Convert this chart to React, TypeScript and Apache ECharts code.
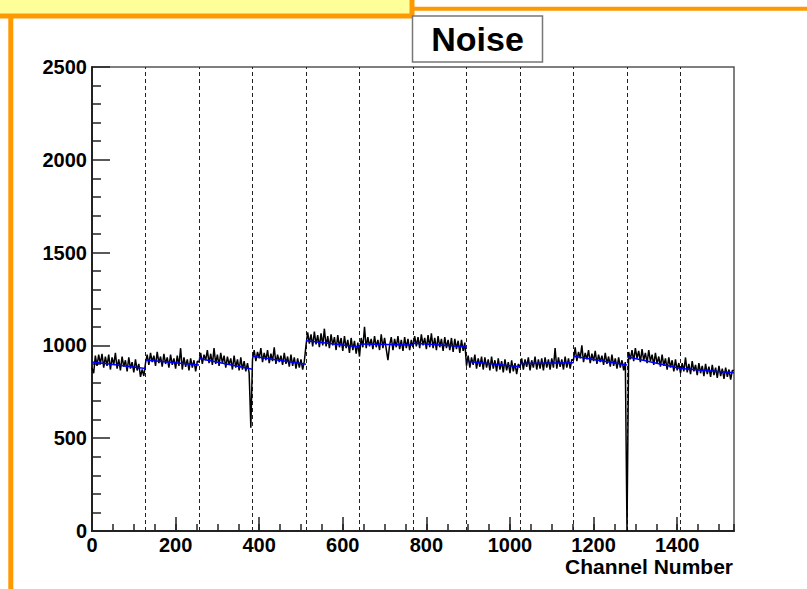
import React, { useEffect, useRef } from "react";
import * as echarts from "echarts";

// Channel binning (each stored value covers BIN channels), chips of 128 channels
const BIN = 4;
const CHIP = 128;
const N_CHANNELS = 1536;

const xMajorStep = 200;
const yTicks = [0, 500, 1000, 1500, 2000, 2500];
const chipBoundaries = [128, 256, 384, 512, 640, 768, 896, 1024, 1152, 1280, 1408];

// Linear fit per chip (blue): value at chip start / chip end
const fitStart = [911, 921, 930, 942, 1025, 1007, 1011, 915, 903, 942, 939, 876];
const fitEnd = [876, 894, 872, 899, 992, 1002, 993, 885, 906, 894, 876, 852];

// Noise per 4-channel bin, one array per chip (32 bins each)
const chip0 = [880, 850, 945, 890, 950, 900, 955, 880, 940, 890, 950, 870, 935, 895, 960, 875, 925, 865, 940, 885, 920, 860, 935, 875, 910, 855, 925, 865, 900, 830, 870, 835];
const chip1 = [905, 950, 895, 960, 910, 945, 890, 965, 905, 940, 885, 955, 900, 935, 880, 950, 895, 930, 875, 945, 890, 985, 870, 935, 885, 925, 865, 930, 880, 920, 860, 915];
const chip2 = [910, 960, 900, 950, 920, 975, 905, 955, 895, 985, 900, 950, 890, 960, 905, 945, 880, 940, 895, 930, 870, 945, 880, 925, 865, 935, 870, 915, 860, 905, 850, 556];
const chip3 = [925, 975, 915, 965, 930, 985, 910, 960, 920, 975, 905, 955, 915, 990, 900, 950, 910, 945, 895, 960, 900, 940, 885, 950, 890, 935, 875, 930, 880, 925, 870, 915];
const chip4 = [1000, 1070, 1010, 1060, 995, 1075, 1005, 1055, 990, 1065, 1000, 1090, 995, 1050, 985, 1060, 1000, 1045, 975, 1055, 990, 1040, 970, 1050, 985, 1030, 960, 1040, 975, 1025, 955, 1015];
const chip5 = [940, 1040, 990, 1100, 985, 1045, 995, 1035, 980, 1050, 990, 1030, 975, 1060, 985, 1040, 980, 920, 1000, 1045, 975, 1035, 990, 1050, 980, 1030, 970, 1045, 985, 1035, 975, 1030];
const chip6 = [990, 1050, 995, 1045, 985, 1060, 1000, 1040, 980, 1055, 990, 1065, 985, 1040, 975, 1050, 990, 1035, 970, 1045, 985, 1030, 975, 1040, 965, 1035, 980, 1025, 960, 1030, 970, 1015];
const chip7 = [890, 945, 880, 935, 895, 950, 875, 930, 885, 940, 870, 935, 880, 925, 865, 940, 875, 920, 860, 930, 870, 915, 855, 925, 865, 910, 850, 920, 860, 905, 845, 900];
const chip8 = [880, 930, 870, 925, 885, 935, 865, 920, 880, 940, 870, 925, 875, 930, 865, 935, 880, 925, 870, 930, 880, 985, 875, 935, 885, 925, 870, 940, 880, 930, 875, 925];
const chip9 = [920, 990, 915, 965, 930, 1000, 910, 960, 925, 975, 905, 955, 915, 970, 900, 950, 910, 945, 895, 960, 900, 940, 885, 950, 890, 930, 875, 935, 880, 920, 865, 910];
const chip10 = [0, 965, 925, 975, 915, 985, 930, 970, 910, 980, 920, 960, 905, 975, 915, 950, 895, 960, 900, 940, 885, 950, 890, 930, 870, 935, 880, 920, 860, 925, 865, 905];
const chip11 = [850, 905, 860, 935, 855, 900, 845, 915, 860, 895, 840, 905, 850, 890, 835, 900, 845, 885, 830, 895, 840, 880, 825, 890, 835, 875, 820, 880, 830, 870, 815, 865];

const FONT = "'Liberation Sans', Arial, Helvetica, sans-serif";

export default function App() {
  const ref = useRef<HTMLDivElement>(null);

  useEffect(() => {
    document.body.style.margin = "0";
    const chart = echarts.init(ref.current!, null, { renderer: "svg" });

    const noise = [chip0, chip1, chip2, chip3, chip4, chip5, chip6, chip7, chip8, chip9, chip10, chip11].flat();
    const noiseData: any[] = noise.map((v, i) => [i * BIN, v]);
    noiseData.push([N_CHANNELS, noise[noise.length - 1]]);

    const fitData: any[] = [];
    fitStart.forEach((s, k) => {
      fitData.push([k * CHIP, s], [(k + 1) * CHIP, fitEnd[k]], [(k + 1) * CHIP, "-"]);
    });

    const labelStyle = {
      color: "#000",
      fontFamily: FONT,
      fontWeight: "bold" as const,
      fontSize: 20,
      lineHeight: 18,
      formatter: (v: number) => String(v),
    };

    chart.setOption({
      animation: false,
      backgroundColor: "#fff",
      grid: {
        left: 92,
        right: 73,
        top: 67,
        bottom: 58,
        show: true,
        borderColor: "#555",
        borderWidth: 1.5,
        backgroundColor: "transparent",
      },
      xAxis: [
        {
          type: "value",
          min: 0,
          max: N_CHANNELS,
          interval: xMajorStep,
          axisLine: { show: true, onZero: false, lineStyle: { color: "#222", width: 2 } },
          axisTick: { show: true, inside: true, length: 14, lineStyle: { color: "#222", width: 1.5 } },
          axisLabel: { ...labelStyle, margin: 5, showMaxLabel: false },
          splitLine: { show: false },
        },
        {
          type: "value",
          min: 0,
          max: N_CHANNELS,
          interval: 50,
          position: "bottom",
          axisLine: { show: false },
          axisTick: { show: true, inside: true, length: 7, lineStyle: { color: "#222", width: 1.5 } },
          axisLabel: { show: false },
          splitLine: { show: false },
        },
      ],
      yAxis: {
        type: "value",
        min: yTicks[0],
        max: yTicks[yTicks.length - 1],
        interval: 500,
        axisLine: { show: true, lineStyle: { color: "#222", width: 2 } },
        axisTick: { show: true, inside: true, length: 18, lineStyle: { color: "#222", width: 1.5 } },
        minorTick: { show: true, splitNumber: 5, length: 9, lineStyle: { color: "#222", width: 1.5 } },
        axisLabel: { ...labelStyle, margin: 5 },
        splitLine: { show: false },
      },
      series: [
        {
          type: "line",
          name: "noise",
          data: noiseData,
          showSymbol: false,
          symbol: "none",
          lineStyle: { color: "#000", width: 1.5 },
          z: 3,
        },
        {
          type: "line",
          name: "fit",
          data: fitData,
          showSymbol: false,
          symbol: "none",
          connectNulls: false,
          lineStyle: { color: "#0000ff", width: 1.5 },
          z: 4,
          markLine: {
            silent: true,
            symbol: ["none", "none"],
            label: { show: false },
            lineStyle: { color: "#222", width: 1, type: [4, 3] },
            data: chipBoundaries.map((x) => ({ xAxis: x })),
            z: 2,
          },
        },
      ],
      graphic: [
        {
          type: "rect",
          shape: { x: -20, y: -20, width: 432, height: 36 },
          style: { fill: "#ffff99", stroke: "#ff9900", lineWidth: 5 },
          z: 10,
        },
        {
          type: "line",
          shape: { x1: 10.8, y1: 16, x2: 10.8, y2: 589 },
          style: { stroke: "#ff9900", lineWidth: 5 },
          z: 10,
        },
        {
          type: "line",
          shape: { x1: 412, y1: 8.7, x2: 807, y2: 8.7 },
          style: { stroke: "#ff9900", lineWidth: 4 },
          z: 10,
        },
        {
          type: "rect",
          shape: { x: 412.5, y: 16, width: 130, height: 46 },
          style: { fill: "#fff", stroke: "#777", lineWidth: 1.5 },
          z: 10,
        },
        {
          type: "text",
          x: 477.5,
          y: 39,
          style: {
            text: "Noise",
            fill: "#000",
            font: `bold 34px ${FONT}`,
            textAlign: "center",
            textVerticalAlign: "middle",
          },
          z: 11,
        },
        {
          type: "text",
          x: 733,
          y: 566,
          style: {
            text: "Channel Number",
            fill: "#000",
            font: `bold 21px ${FONT}`,
            lineHeight: 20,
            textAlign: "right",
            textVerticalAlign: "middle",
          },
          z: 11,
        },
      ],
    });

    return () => chart.dispose();
  }, []);

  return <div ref={ref} style={{ width: 807, height: 589 }} />;
}
